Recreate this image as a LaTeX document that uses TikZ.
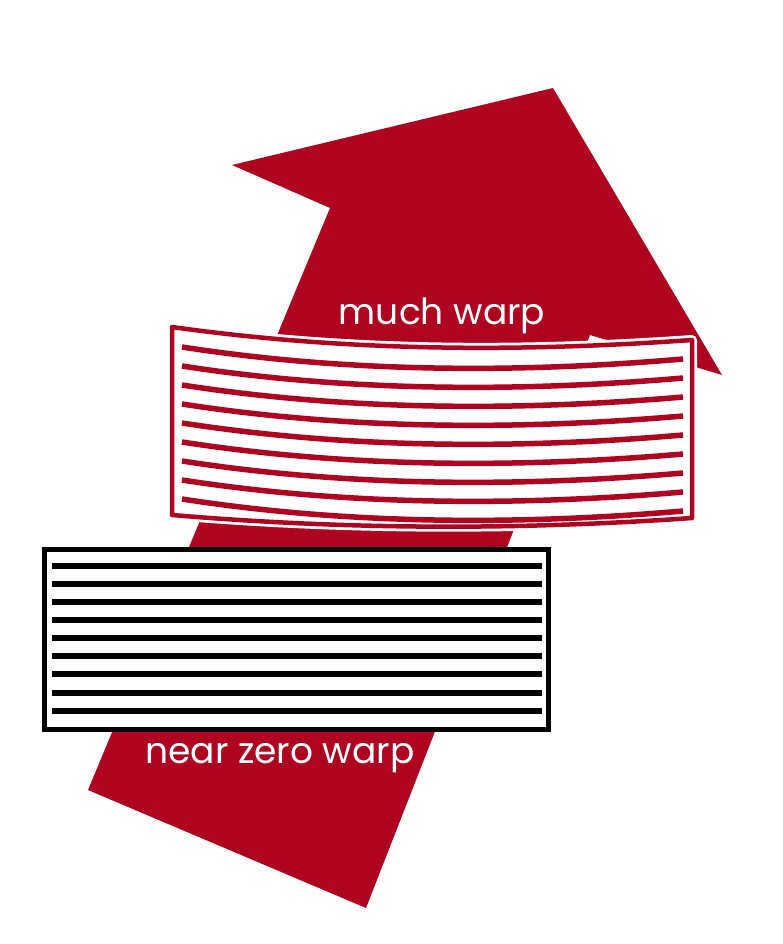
\documentclass[tikz,border=0pt]{standalone}
\usepackage{fontspec}
\setmainfont{Poppins}
\definecolor{warpred}{HTML}{AE0420}
\begin{document}
\begin{tikzpicture}[x=1pt,y=-1pt,
  redstripe/.style={warpred,line width=5.5pt},
  blackstripe/.style={black,line width=6pt},
  lbl/.style={white,font=\fontsize{36}{40}\selectfont}]
\useasboundingbox[fill=white] (0,0) rectangle (783,944);
% arrow
\fill[warpred] (88,790) -- (366,908) -- (590,335) -- (722,375) -- (553,88) -- (232,165) -- (330,208) -- cycle;
% warped box
\draw[white,line width=10pt,line join=round] (172,327) .. controls (350,352) and (520,352) .. (692,340) -- (692,518) .. controls (520,530) and (350,530) .. (172,515) -- cycle;
\fill[white] (172,327) .. controls (350,352) and (520,352) .. (692,340) -- (692,518) .. controls (520,530) and (350,530) .. (172,515) -- cycle;
\draw[warpred,line width=4.5pt,line join=round] (172,327) .. controls (350,352) and (520,352) .. (692,340) -- (692,518) .. controls (520,530) and (350,530) .. (172,515) -- cycle;
\foreach \y in {347,366,385,404,423,442,461,480,499}
  \draw[redstripe] (182,\y) .. controls (350,\y+26) and (520,\y+26) .. (683,\y+12);
% flat box
\draw[black,line width=5pt,fill=white] (44,549) rectangle (548,729);
\foreach \y in {566,584,602,620,638,656,674,693,711}
  \draw[blackstripe] (52,\y) -- (542,\y);
\node[lbl] (much) at (442,316) {much warp};
\node[lbl] (near) at (280,758) {near zero warp};
\end{tikzpicture}
\end{document}
